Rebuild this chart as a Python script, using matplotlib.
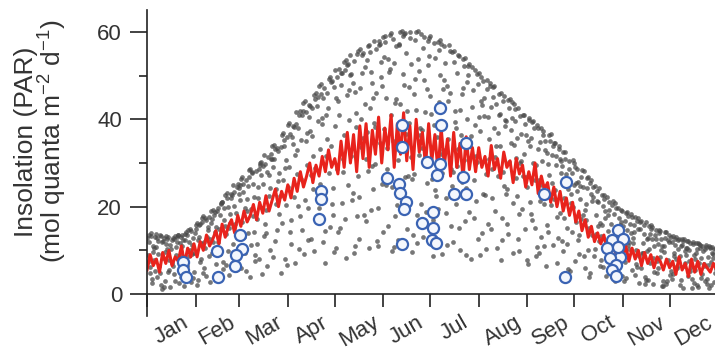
import matplotlib
matplotlib.use('Agg')
import matplotlib.pyplot as plt
import numpy as np

plt.rcParams['font.family'] = ['Liberation Sans', 'DejaVu Sans']
plt.rcParams['mathtext.fontset'] = 'custom'
plt.rcParams['mathtext.rm'] = 'Liberation Sans'
plt.rcParams['mathtext.it'] = 'Liberation Sans:italic'

months = ['Jan', 'Feb', 'Mar', 'Apr', 'May', 'Jun', 'Jul', 'Aug', 'Sep', 'Oct', 'Nov', 'Dec']
month_starts = [0, 31, 59, 90, 120, 151, 181, 212, 243, 273, 304, 334, 365]

# daily PAR, three years, one value per day (5 days per group)
par_year1 = [
    12.8, 13.5, 6.1, 3.4, 9.7,   13.1, 13.7, 12.2, 4.8, 2.0,   8.3, 12.9, 13.2, 10.4, 5.6,
    1.7, 7.2, 12.6, 13.3, 11.8,  13.6, 9.0, 3.9, 12.4, 13.8,   14.2, 14.7, 8.6, 2.8, 11.3,
    5.1, 15.9, 16.2, 13.0, 7.4,  17.3, 17.8, 10.6, 4.2, 15.4,  12.7, 18.9, 19.2, 18.0, 6.9,
    3.6, 14.8, 20.8, 21.1, 19.7, 22.6, 23.2, 9.8, 16.3, 22.0,  24.9, 7.3, 18.5, 25.1, 24.2,
    26.4, 26.8, 13.1, 5.2, 21.7, 28.3, 28.7, 27.6, 17.9, 9.0,  11.4, 24.6, 29.9, 30.2, 29.3,
    31.8, 19.2, 6.4, 27.3, 32.1, 33.9, 34.2, 33.1, 14.7, 25.8, 22.4, 36.3, 36.8, 8.1, 30.6,
    38.7, 39.1, 16.9, 34.4, 38.2, 41.6, 27.5, 10.3, 42.0, 41.1, 43.8, 44.2, 36.9, 19.8, 43.1,
    12.6, 31.7, 45.6, 46.1, 45.0, 47.7, 48.1, 40.2, 23.4, 7.2,  35.6, 49.3, 49.7, 48.8, 18.1,
    51.2, 44.9, 14.3, 51.6, 50.7, 27.9, 53.1, 53.6, 52.4, 39.8, 54.8, 21.6, 9.4, 46.3, 55.0,
    55.7, 56.1, 33.7, 55.2, 43.5, 16.8, 56.7, 57.1, 50.9, 29.4, 57.9, 38.2, 12.1, 58.0, 57.3,
    47.6, 58.8, 59.1, 24.9, 53.8, 59.4, 59.7, 35.1, 10.8, 44.6, 20.3, 56.9, 60.0, 60.2, 59.6,
    59.8, 41.9, 27.1, 60.1, 52.7, 13.5, 49.3, 59.9, 60.3, 31.8, 59.5, 37.6, 58.9, 18.7, 46.9,
    58.7, 59.0, 26.4, 8.6, 54.1,  42.3, 57.8, 58.1, 57.2, 33.0, 56.8, 21.9, 47.7, 56.9, 15.6,
    55.3, 55.6, 39.4, 29.2, 54.7, 10.1, 45.8, 53.8, 54.0, 24.3, 52.3, 52.6, 36.1, 51.9, 17.4,
    31.5, 50.4, 50.7, 8.9, 43.2,  48.8, 22.7, 49.0, 40.6, 48.3, 14.9, 47.4, 47.6, 33.8, 27.0,
    45.9, 46.0, 12.4, 45.3, 38.5, 24.1, 44.4, 44.6, 43.9, 9.5,  42.4, 31.2, 42.6, 18.3, 36.7,
    40.9, 41.0, 26.8, 7.7, 40.3,  33.9, 39.4, 39.6, 15.1, 38.8, 37.9, 21.3, 38.0, 37.4, 11.0,
    6.3, 29.7, 36.5, 36.6, 25.4,  34.5, 34.6, 17.6, 34.0, 30.9, 12.2, 32.5, 32.6, 27.4, 5.8,
    30.5, 22.9, 30.6, 30.1, 16.4, 28.6, 9.1, 24.7, 28.5, 28.2,  19.3, 26.6, 26.7, 4.7, 26.2,
    24.6, 24.7, 13.8, 21.0, 24.3, 7.9, 22.6, 22.7, 17.5, 22.3,  21.1, 12.6, 3.9, 21.2, 20.8,
    19.6, 19.7, 15.8, 19.3, 8.4,  2.9, 18.6, 18.7, 11.9, 18.4,  17.6, 14.1, 17.7, 6.2, 17.4,
    16.6, 16.7, 9.3, 2.4, 16.4,   12.8, 15.6, 15.7, 15.4, 5.0,  14.6, 7.6, 14.7, 14.4, 10.9,
    1.9, 14.1, 14.2, 12.3, 4.4,   13.1, 13.2, 8.8, 13.0, 6.5,   12.6, 3.1, 12.7, 12.5, 9.9,
    12.1, 12.2, 5.3, 1.4, 11.9,   8.1, 11.6, 11.7, 11.5, 3.6,   11.1, 6.9, 11.2, 2.2, 10.9,
    10.6, 10.7, 9.2, 4.9, 10.5,
]
par_year2 = [
    7.4, 11.9, 13.2, 2.5, 10.6,   5.3, 12.8, 9.1, 13.6, 1.2,    12.1, 3.0, 11.4, 13.0, 7.8,
    10.2, 12.9, 4.6, 8.9, 13.1,   2.6, 11.7, 13.4, 6.7, 12.3,   13.6, 4.4, 10.0, 14.5, 12.9,
    9.3, 14.9, 3.2, 15.7, 11.6,   16.4, 6.0, 17.4, 13.1, 8.6,   2.7, 17.2, 11.8, 18.7, 15.3,
    19.6, 9.2, 20.5, 5.7, 16.9,   13.8, 21.9, 4.3, 18.4, 22.7,  23.4, 16.1, 24.6, 10.6, 21.5,
    5.9, 25.2, 19.8, 26.1, 14.0,  26.7, 11.2, 27.9, 22.3, 7.6,  17.1, 28.6, 29.5, 4.6, 25.3,
    29.8, 13.9, 31.4, 24.2, 30.9, 8.4, 31.0, 20.6, 33.5, 27.7,  33.6, 16.2, 35.2, 28.9, 6.7,
    24.5, 36.6, 11.5, 38.4, 31.9, 39.0, 20.1, 40.9, 35.2, 14.6, 9.2, 41.7, 29.6, 43.2, 37.4,
    42.5, 24.0, 44.7, 16.5, 39.6, 33.3, 45.9, 11.8, 47.2, 41.0, 46.1, 27.6, 48.5, 20.7, 9.6,
    38.4, 49.6, 44.1, 15.2, 50.5, 30.9, 51.4, 8.3, 52.6, 46.8,  50.3, 23.1, 53.4, 41.4, 17.8,
    12.7, 47.1, 54.7, 35.8, 52.0, 53.6, 28.2, 55.4, 19.3, 44.9, 39.1, 56.0, 10.9, 57.0, 49.8,
    25.3, 54.2, 57.8, 33.4, 15.5, 51.5, 9.8, 58.4, 43.7, 56.7,  30.6, 57.3, 22.1, 59.0, 47.9,
    55.1, 14.8, 39.2, 58.6, 26.3, 45.8, 58.2, 11.6, 53.7, 36.4, 20.6, 56.3, 49.0, 30.1, 58.0,
    54.6, 41.2, 13.3, 57.4, 23.7, 36.0, 55.8, 50.2, 9.1, 47.0,  52.9, 18.6, 44.3, 55.6, 28.7,
    12.0, 53.2, 37.9, 50.6, 54.4, 42.2, 25.6, 52.1, 16.7, 48.5, 50.2, 33.9, 8.0, 46.7, 51.4,
    21.4, 48.0, 40.5, 49.6, 13.9, 44.8, 10.4, 46.9, 31.0, 47.7, 28.6, 45.1, 19.0, 43.6, 36.8,
    41.3, 7.9, 44.2, 24.8, 39.5,  16.1, 42.7, 34.6, 40.3, 43.4, 39.7, 22.5, 12.6, 40.8, 30.4,
    27.1, 38.9, 36.3, 6.8, 39.8,  35.8, 16.9, 37.9, 29.5, 10.7, 9.3, 34.7, 25.0, 36.5, 32.9,
    32.3, 14.2, 35.1, 20.4, 33.8, 21.8, 31.6, 7.1, 33.2, 27.6,  29.4, 17.3, 30.8, 11.5, 24.0,
    5.2, 27.8, 20.0, 29.1, 25.5,  25.7, 13.6, 26.9, 18.1, 8.7,  17.0, 24.3, 3.8, 25.4, 21.2,
    22.1, 10.3, 23.5, 15.6, 6.4,  13.2, 20.1, 21.8, 4.1, 18.0,  19.2, 8.0, 20.3, 14.7, 2.9,
    6.5, 17.4, 12.3, 18.9, 15.6,  16.8, 3.7, 17.9, 10.2, 14.0,  11.7, 15.9, 6.9, 16.8, 2.6,
    14.9, 9.5, 15.8, 4.0, 12.6,   3.3, 13.7, 14.9, 8.2, 11.1,   12.7, 5.9, 13.9, 10.0, 1.8,
    9.6, 12.8, 2.9, 13.5, 6.8,    11.9, 4.5, 12.6, 8.0, 10.4,   2.0, 10.9, 12.1, 6.3, 9.0,
    10.5, 7.5, 11.6, 3.4, 8.9,    5.6, 10.2, 1.7, 11.2, 8.3,    9.8, 3.0, 10.7, 6.6, 1.3,
    7.3, 9.5, 2.7, 10.3, 5.4,
]
par_year3 = [
    9.0, 4.7, 13.9, 11.1, 7.9,    10.8, 3.9, 6.5, 13.3, 12.0,   1.6, 9.7, 12.6, 5.0, 11.3,
    12.4, 6.4, 2.9, 10.7, 13.4,   8.2, 13.1, 10.9, 1.9, 5.8,    6.3, 11.8, 14.9, 9.2, 3.6,
    14.0, 2.1, 12.3, 16.0, 8.0,   4.9, 11.9, 16.9, 14.6, 17.6,  16.2, 9.4, 4.0, 14.3, 19.0,
    12.0, 18.1, 21.0, 7.3, 15.5,  6.7, 20.0, 15.0, 23.0, 11.4,  20.2, 5.4, 13.9, 22.8, 25.0,
    16.6, 23.3, 9.5, 19.0, 24.7,  3.9, 19.4, 25.1, 14.1, 28.1,  22.0, 8.0, 27.2, 19.7, 13.3,
    16.0, 28.0, 22.5, 10.1, 31.0, 29.1, 12.1, 24.0, 32.8, 18.3, 4.8, 26.0, 33.8, 20.4, 35.9,
    29.0, 14.2, 36.0, 22.2, 7.0,  33.0, 38.1, 17.8, 26.4, 41.9, 21.5, 35.1, 12.4, 40.6, 27.3,
    36.2, 9.8, 28.9, 43.1, 19.7,  25.2, 39.0, 44.8, 14.5, 31.6, 42.7, 15.4, 33.9, 24.3, 47.5,
    10.5, 28.6, 41.0, 47.8, 20.9, 36.5, 17.1, 45.6, 24.9, 50.1, 31.5, 48.4, 11.0, 38.3, 27.0,
    22.3, 40.1, 50.5, 18.0, 30.9, 37.0, 10.6, 42.6, 48.3, 24.1, 29.8, 46.1, 19.7, 34.5, 53.2,
    14.2, 37.7, 44.9, 28.6, 50.9, 40.9, 24.6, 52.8, 17.8, 34.7, 12.3, 43.5, 33.0, 50.4, 26.9,
    36.7, 21.0, 47.3, 31.3, 9.7,  27.5, 42.1, 18.2, 51.1, 38.0, 33.5, 13.0, 41.6, 25.5, 52.5,
    45.4, 30.0, 16.9, 38.6, 22.4, 19.5, 43.9, 32.1, 27.8, 49.0, 38.9, 11.3, 35.4, 46.0, 24.8,
    28.0, 42.0, 20.5, 33.1, 15.0, 36.3, 47.2, 30.7, 9.0, 40.0,  18.8, 34.8, 42.9, 26.2, 38.7,
    30.3, 12.5, 37.3, 44.3, 22.8, 40.7, 27.4, 16.0, 35.5, 42.8, 21.9, 38.0, 31.4, 10.6, 40.9,
    33.8, 17.4, 27.9, 39.9, 23.0, 13.7, 30.2, 37.5, 20.9, 34.1, 26.6, 35.8, 9.8, 29.9, 19.4,
    32.0, 14.8, 24.5, 35.0, 21.0, 18.4, 30.0, 26.0, 8.6, 33.3,  26.2, 13.0, 30.5, 20.7, 35.0,
    15.8, 27.3, 22.1, 31.8, 11.2, 23.9, 29.5, 12.8, 18.6, 30.4, 9.9, 22.0, 26.3, 15.1, 28.7,
    20.8, 14.3, 25.0, 7.5, 23.5,  12.4, 21.7, 17.2, 24.6, 6.0,  20.5, 10.1, 15.0, 22.9, 13.5,
    8.6, 18.2, 21.3, 12.1, 16.3,  15.9, 6.2, 19.1, 11.0, 14.4,  10.4, 16.0, 5.0, 18.4, 12.9,
    13.6, 9.2, 16.5, 4.1, 11.5,   7.4, 14.6, 11.2, 16.1, 5.6,   12.9, 4.3, 10.0, 14.8, 8.7,
    6.0, 11.6, 13.7, 3.1, 9.8,    10.4, 7.1, 12.6, 2.2, 13.4,   4.9, 11.4, 8.5, 12.5, 3.0,
    11.0, 2.3, 7.9, 12.0, 5.3,    3.5, 9.5, 11.2, 5.9, 12.3,    8.7, 11.3, 1.3, 7.1, 10.5,
    4.2, 10.0, 6.1, 11.4, 2.5,    9.5, 2.0, 7.0, 10.6, 4.5,     6.3, 10.2, 3.4, 8.4, 10.8,
    2.0, 8.2, 10.4, 5.8, 9.1,
]

# mean daily PAR, every second day of the year
mean_days = list(range(0, 365, 2))
mean_par = [
    5.5, 9.0, 6.5, 8.0, 5.0, 9.5, 7.0, 10.0, 6.5, 8.5, 7.5, 11.0, 7.0, 10.5, 8.5,
    11.5, 8.5, 12.0, 10.0, 13.5, 11.0, 12.5, 14.5, 11.5, 16.0, 13.0, 15.5, 17.0, 14.0, 18.0,
    15.5, 19.0, 16.5, 18.0, 20.5, 17.0, 21.0, 18.5, 22.5, 19.0, 21.5, 24.0, 20.0, 23.5, 21.5,
    25.0, 22.0, 26.5, 23.5, 28.0, 24.5, 27.0, 30.0, 25.5, 29.5, 27.0, 31.5, 28.0, 33.0, 29.0,
    31.0, 27.5, 35.0, 29.0, 37.0, 30.0, 36.5, 28.0, 38.5, 31.0, 39.0, 29.0, 37.5, 32.0, 40.5,
    30.0, 38.0, 33.0, 41.0, 29.0, 39.0, 32.0, 41.5, 30.5, 38.5, 28.5, 40.0, 32.5, 37.0, 29.5,
    39.0, 30.5, 36.5, 28.0, 38.0, 29.5, 35.5, 27.0, 37.0, 29.0, 34.5, 26.5, 36.0, 28.5, 33.5,
    28.0, 33.5, 29.0, 31.5, 27.0, 34.0, 28.5, 31.0, 26.5, 32.5, 29.0, 30.5, 25.5, 31.0, 27.5,
    29.5, 24.5, 28.0, 25.0, 30.0, 23.0, 27.0, 24.0, 25.5, 21.0, 24.5, 20.0, 23.5, 19.0, 22.0,
    18.0, 21.0, 16.5, 19.0, 14.5, 17.0, 13.0, 15.5, 12.0, 14.0, 11.5, 13.5, 10.0, 12.5, 11.0,
    9.0, 12.0, 8.5, 11.0, 7.5, 10.5, 8.0, 10.0, 6.5, 9.5, 7.0, 9.0, 6.0, 8.5, 7.5,
    5.5, 8.0, 6.0, 7.5, 4.5, 8.5, 5.5, 7.0, 4.0, 8.0, 5.0, 7.5, 4.5, 7.0, 6.0,
    5.0, 7.0, 5.5,
]

# sampling days (blue circles)
sample_days = [23, 23, 25, 44.5, 45.6, 59.4, 61, 57, 56,
               111, 111.5, 110,
               163, 163, 153.5, 161, 161.7, 165.5, 164, 163,
               179, 187, 188, 187, 185.5, 183, 175.5, 182.5, 182, 185,
               204, 202, 196, 204,
               254, 268, 267,
               300.7, 297, 304, 294, 302.6, 295.8, 300, 297, 299.6, 300.7]
sample_par = [7.4, 5.5, 4.0, 9.8, 4.0, 13.4, 10.2, 8.9, 6.3,
              23.6, 21.8, 17.2,
              38.7, 33.7, 26.5, 25.3, 23.2, 21.1, 19.4, 11.4,
              30.3, 42.5, 38.7, 29.8, 27.2, 18.8, 16.3, 15.2, 12.4, 11.6,
              34.6, 26.7, 22.8, 22.8,
              22.8, 25.7, 4.0,
              14.7, 12.4, 12.5, 10.5, 8.5, 8.2, 6.6, 5.5, 4.1, 10.8]

fig = plt.figure(figsize=(7.15, 3.49), dpi=100)
ax = fig.add_axes([0.2056, 0.095, 0.7944, 0.876])

for k, year in enumerate([par_year1, par_year2, par_year3]):
    days = np.arange(len(year)) + k / 3
    ax.plot(days, year, 'o', ms=3.4, mew=0, color='#4a4a4a', alpha=0.75, zorder=1)

ax.plot(mean_days, mean_par, color='#e8231c', lw=2.2, zorder=2)
ax.plot(sample_days, sample_par, 'o', ms=8, mew=1.6, mec='#3a63b3', mfc='#f4f7fd', zorder=3)

ax.set_xlim(0, 363)
ax.set_ylim(-5, 65)

for s in ['top', 'right']:
    ax.spines[s].set_visible(False)
ax.spines['bottom'].set_position(('data', 0))
ax.spines['left'].set_color('#222222')
ax.spines['bottom'].set_color('#222222')
ax.spines['left'].set_linewidth(1.2)
ax.spines['bottom'].set_linewidth(1.2)

mid_month = [(month_starts[i] + month_starts[i + 1]) / 2 for i in range(12)]
ax.set_xticks(month_starts[:-1])
ax.set_xticklabels([])
ax.set_xticks(mid_month, minor=True)
ax.set_xticklabels(months, minor=True, rotation=30, ha='center')
ax.tick_params(axis='x', which='major', length=9.5, width=1.2, color='#222222', direction='out')
ax.tick_params(axis='x', which='minor', length=0, pad=13, labelsize=16, labelcolor='#333333')

ax.set_yticks([0, 20, 40, 60])
ax.set_yticks([10, 30, 50], minor=True)
ax.tick_params(axis='y', which='major', length=12, width=1.2, color='#222222', labelsize=16,
               labelcolor='#333333', pad=6)
ax.tick_params(axis='y', which='minor', length=6, width=1.2, color='#222222')

ax.set_ylabel('Insolation (PAR)\n(mol quanta m$^{-2}$ d$^{-1}$)', fontsize=19, color='#333333',
              linespacing=0.95)
ax.yaxis.set_label_coords(-0.138, 0.57)

fig.savefig('out.png', dpi=100)
